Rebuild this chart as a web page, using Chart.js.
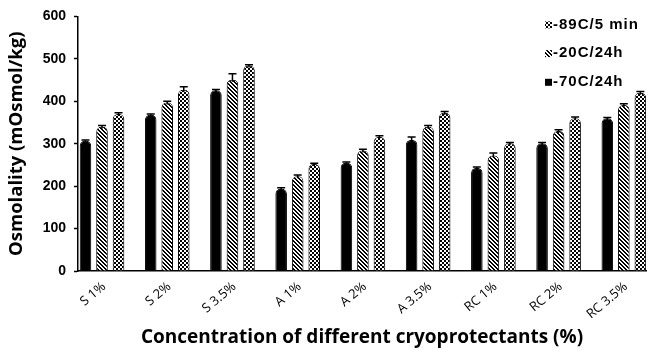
<!DOCTYPE html>
<html>
<head>
<meta charset="utf-8">
<script src="https://cdn.jsdelivr.net/npm/chart.js@4.4.1/dist/chart.umd.min.js"></script>
<style>
  html, body { margin: 0; padding: 0; background: #fff; }
  canvas { display: block; }
</style>
</head>
<body>
<canvas id="c" width="648" height="354"></canvas>
<script>
// Osmolality of cryoprotectant solutions after three freezing treatments
const categories = ['S 1%', 'S 2%', 'S 3.5%', 'A 1%', 'A 2%', 'A 3.5%', 'RC 1%', 'RC 2%', 'RC 3.5%'];
const seriesLabels = ['-70C/24h', '-20C/24h', '-89C/5 min'];
const valuesMinus70 = [307, 368, 426, 194, 255, 309, 243, 301, 360];
const valuesMinus20 = [340, 397, 451, 223, 284, 340, 272, 330, 391];
const valuesMinus89 = [370, 427, 484, 252, 316, 373, 301, 360, 420];
const errMinus70 = [2, 2, 2, 2, 2, 7, 2, 2, 2];
const errMinus20 = [3, 3, 14, 3, 3, 3, 6, 3, 3];
const errMinus89 = [3, 7, 2, 2, 3, 3, 2, 3, 3];
const yTicks = [0, 100, 200, 300, 400, 500, 600];

const canvas = document.getElementById('c');
const ctx = canvas.getContext('2d');

// small bitmap tiles used as bar fills
function makePattern(size, isInk) {
  const tile = document.createElement('canvas');
  tile.width = tile.height = size;
  const g = tile.getContext('2d');
  const img = g.createImageData(size, size);
  for (let y = 0; y < size; y++) {
    for (let x = 0; x < size; x++) {
      const p = (y * size + x) * 4;
      const v = isInk(x, y) ? 0 : 255;
      img.data[p] = img.data[p + 1] = img.data[p + 2] = v;
      img.data[p + 3] = 255;
    }
  }
  g.putImageData(img, 0, 0);
  return ctx.createPattern(tile, 'repeat');
}
const hatchFill = makePattern(4, (x, y) => ((x - y + 8) % 4) < 2);
const checkFill = makePattern(4, (x, y) => ((Math.floor(x / 2) + Math.floor(y / 2)) % 2) === 0);

const toPoints = vals => vals.map((v, i) => ({ x: i, y: v }));

const errorBars = {
  id: 'errorBars',
  afterDatasetsDraw(chart) {
    const c = chart.ctx, yScale = chart.scales.y;
    chart.data.datasets.forEach((ds, di) => {
      const meta = chart.getDatasetMeta(di);
      meta.data.forEach((bar, i) => {
        const top = yScale.getPixelForValue(ds.data[i].y + ds.errors[i]);
        c.save();
        c.strokeStyle = '#000';
        c.lineWidth = 1.5;
        c.beginPath();
        c.moveTo(bar.x, bar.y + 2);
        c.lineTo(bar.x, top);
        c.moveTo(bar.x - 4, top);
        c.lineTo(bar.x + 4, top);
        c.stroke();
        c.restore();
      });
    });
  }
};

const legendBox = {
  id: 'legendBox',
  afterDraw(chart) {
    const c = chart.ctx;
    const area = chart.chartArea;
    const items = chart.data.datasets.slice().reverse();
    c.save();
    c.font = 'bold 15px "Liberation Sans", Arial, sans-serif';
    c.letterSpacing = '1px';
    c.textBaseline = 'middle';
    items.forEach((ds, k) => {
      const cy = area.top + 8 + k * 28.7;
      const ix = area.right - 101;
      c.fillStyle = ds.backgroundColor;
      c.fillRect(ix, cy - 3, 7, 7);
      c.fillStyle = '#000';
      c.fillText(ds.label, ix + 8, cy);
    });
    c.restore();
  }
};

new Chart(ctx, {
  type: 'bar',
  data: {
    datasets: [
      { label: seriesLabels[0], data: toPoints(valuesMinus70), errors: errMinus70,
        backgroundColor: '#000', borderColor: '#000', borderWidth: 1 },
      { label: seriesLabels[1], data: toPoints(valuesMinus20), errors: errMinus20,
        backgroundColor: hatchFill, borderColor: '#000', borderWidth: 1 },
      { label: seriesLabels[2], data: toPoints(valuesMinus89), errors: errMinus89,
        backgroundColor: checkFill, borderColor: '#000', borderWidth: 1 }
    ]
  },
  options: {
    responsive: false,
    animation: false,
    devicePixelRatio: 1,
    layout: { padding: { top: 15, right: 2, left: 0, bottom: 0 } },
    plugins: { legend: { display: false }, tooltip: { enabled: false } },
    datasets: { bar: { categoryPercentage: 0.76, barPercentage: 0.7, borderRadius: 5, borderSkipped: 'start' } },
    scales: {
      x: {
        type: 'linear',
        offset: false,
        min: -0.368,
        max: 8.34,
        afterBuildTicks(scale) { scale.ticks = categories.map((c, i) => ({ value: i })); },
        afterFit(scale) { scale.height = 83; },
        grid: { display: false, drawTicks: false, offset: false },
        border: { color: '#000', width: 1.5 },
        ticks: {
          autoSkip: false, minRotation: 40, maxRotation: 40, padding: 8, labelOffset: 2,
          color: '#000', font: { family: 'Open Sans', size: 13 },
          callback: v => categories[v]
        },
        title: {
          display: true, text: 'Concentration of different cryoprotectants (%)', color: '#000',
          font: { family: 'Open Sans', size: 19, weight: 'bold', lineHeight: 1.2 },
          padding: { top: 0, bottom: 5 }
        }
      },
      y: {
        min: 0,
        max: 600,
        afterBuildTicks(scale) { scale.ticks = yTicks.map(v => ({ value: v })); },
        afterFit(scale) { scale.width = 78; },
        grid: { drawOnChartArea: false, drawTicks: true, tickLength: 4, color: '#000', tickWidth: 1.5 },
        border: { color: '#000', width: 1.5 },
        ticks: { padding: 8, color: '#000', font: { family: 'Liberation Sans', size: 14, weight: 'bold' } },
        title: {
          display: true, text: 'Osmolality (mOsmol/kg)', color: '#000',
          font: { family: 'Open Sans', size: 18.5, weight: 'bold', lineHeight: 1.2 },
          padding: { top: 6, bottom: 0 }
        }
      }
    }
  },
  plugins: [errorBars, legendBox]
});
</script>
</body>
</html>
